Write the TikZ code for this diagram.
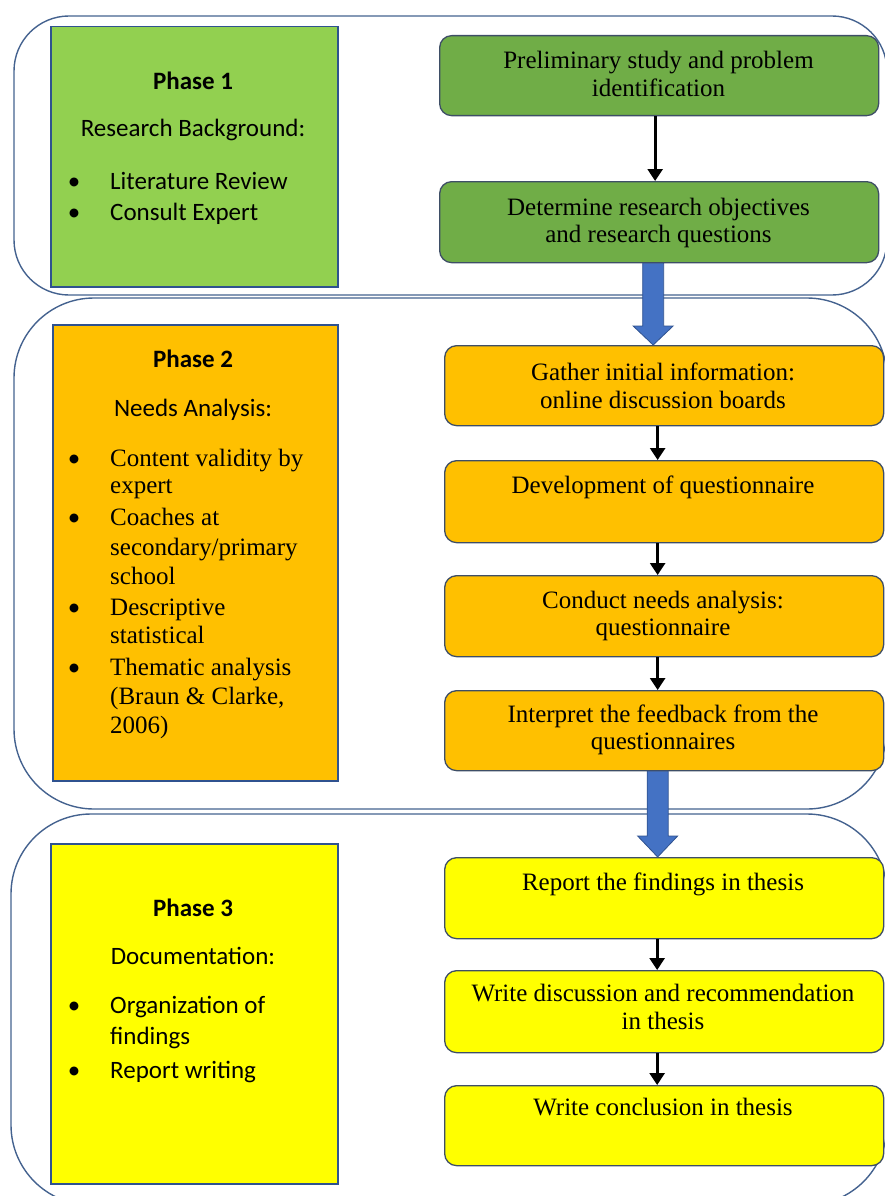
\documentclass[tikz,border=0pt]{standalone}
\usepackage{fontspec}
\setmainfont{Liberation Serif}
\newfontfamily\calib{Carlito}
\usetikzlibrary{arrows.meta,calc}
\definecolor{frameblue}{HTML}{44628F}
\definecolor{edgeblue}{HTML}{2F528F}
\definecolor{stepedge}{HTML}{3E4E66}
\definecolor{lgreen}{HTML}{92D050}
\definecolor{dgreen}{HTML}{70AD47}
\definecolor{orng}{HTML}{FFC000}
\definecolor{yell}{HTML}{FFFF00}
\definecolor{arrblue}{HTML}{4472C4}
\begin{document}
\begin{tikzpicture}[x=1pt,y=-1pt,
  outerbox/.style={draw=frameblue, line width=1.4pt},
  phasebox/.style={draw=edgeblue, line width=1.5pt, anchor=north west, inner sep=0pt},
  stepbox/.style={draw=stepedge, line width=1.3pt, rounded corners=12pt, anchor=north west,
                  minimum width=439pt, inner sep=0pt},
  ser/.style={font=\fontsize{25}{28}\selectfont, inner sep=0pt, anchor=base},
  serl/.style={font=\fontsize{25}{28}\selectfont, inner sep=0pt, anchor=base west},
  cal/.style={font=\calib\fontsize{25}{28}\selectfont, inner sep=0pt, anchor=base},
  calb/.style={font=\calib\bfseries\fontsize{25}{28}\selectfont, inner sep=0pt, anchor=base},
  call/.style={font=\calib\fontsize{25}{28}\selectfont, inner sep=0pt, anchor=base west},
  bul/.style={font=\calib\fontsize{25}{28}\selectfont, inner sep=0pt, anchor=base},
  blackarrow/.style={line width=2.8pt, -{Triangle[width=15pt,length=12pt]}},
  bluearr/.style={fill=arrblue, draw=edgeblue, line width=0.8pt, line join=miter}
]
\useasboundingbox (0,0) rectangle (885,1196);
\clip (0,0) rectangle (885,1196);

% outer frames
\draw[outerbox, rounded corners=55pt] (14,16) rectangle (887,295);
\draw[outerbox, rounded corners=80pt] (14,298) rectangle (887,809);
\draw[outerbox, rounded corners=80pt] (11,814) rectangle (887,1205);

% phase boxes
\node[phasebox, fill=lgreen, minimum width=287pt, minimum height=260pt] (p1) at (50,26) {};
\node[phasebox, fill=orng, minimum width=285pt, minimum height=456pt] (p2) at (52,324) {};
\node[phasebox, fill=yell, minimum width=287pt, minimum height=340pt] (p3) at (50,843) {};

% phase 1 text
\node[calb] (p1a) at (193,89.3) {Phase 1};
\node[cal] (p1b) at (193,136.7) {Research Background:};
\node[bul] (p1c) at (74,189) {•};
\node[call] (p1d) at (110,189) {Literature Review};
\node[bul] (p1e) at (74,220.7) {•};
\node[call] (p1f) at (110,220.7) {Consult Expert};

% phase 2 text
\node[calb] (p2a) at (193,367.6) {Phase 2};
\node[cal] (p2b) at (193,416) {Needs Analysis:};
\node[bul] (p2c) at (74,466) {•};
\node[serl] (p2d) at (110,466) {Content validity by};
\node[serl] (p2e) at (110,493) {expert};
\node[bul] (p2f) at (74,525.5) {•};
\node[serl] (p2g) at (110,525.5) {Coaches at};
\node[serl] (p2h) at (110,555) {secondary/primary};
\node[serl] (p2i) at (110,584) {school};
\node[bul] (p2j) at (74,615) {•};
\node[serl] (p2k) at (110,615) {Descriptive};
\node[serl] (p2l) at (110,643) {statistical};
\node[bul] (p2m) at (74,675.5) {•};
\node[serl] (p2n) at (110,675.5) {Thematic analysis};
\node[serl] (p2o) at (110,704) {(Braun \& Clarke,};
\node[serl] (p2p) at (110,733) {2006)};

% phase 3 text
\node[calb] (p3a) at (193,916) {Phase 3};
\node[cal] (p3b) at (193,964) {Documentation:};
\node[bul] (p3c) at (74,1013) {•};
\node[call] (p3d) at (110,1013) {Organization of};
\node[call] (p3e) at (110,1044) {findings};
\node[bul] (p3f) at (74,1078) {•};
\node[call] (p3g) at (110,1078) {Report writing};

% step boxes
\node[stepbox, fill=dgreen, minimum height=80pt] (b1) at (439,35) {};
\node[stepbox, fill=dgreen, minimum height=81pt] (b2) at (439,181) {};
\node[stepbox, fill=orng, minimum height=80pt] (b3) at (444,345) {};
\node[stepbox, fill=orng, minimum height=82pt] (b4) at (444,460) {};
\node[stepbox, fill=orng, minimum height=81pt] (b5) at (444,575) {};
\node[stepbox, fill=orng, minimum height=80pt] (b6) at (444,690) {};
\node[stepbox, fill=yell, minimum height=81pt] (b7) at (444,857) {};
\node[stepbox, fill=yell, minimum height=82pt] (b8) at (444,970) {};
\node[stepbox, fill=yell, minimum height=80pt] (b9) at (444,1085) {};

% step texts
\node[ser] (t1a) at (658.5,69) {Preliminary study and problem};
\node[ser] (t1b) at (658.5,96.7) {identification};
\node[ser] (t2a) at (658.5,215) {Determine research objectives};
\node[ser] (t2b) at (658.5,242.7) {and research questions};
\node[ser] (t3a) at (663,380) {Gather initial information:};
\node[ser] (t3b) at (663,408) {online discussion boards};
\node[ser] (t4a) at (663,493.4) {Development of questionnaire};
\node[ser] (t5a) at (663,608) {Conduct needs analysis:};
\node[ser] (t5b) at (663,635.5) {questionnaire};
\node[ser] (t6a) at (663,722) {Interpret the feedback from the};
\node[ser] (t6b) at (663,749.7) {questionnaires};
\node[ser] (t7a) at (663,890) {Report the findings in thesis};
\node[ser] (t8a) at (663,1001.7) {Write discussion and recommendation};
\node[ser] (t8b) at (663,1029) {in thesis};
\node[ser] (t9a) at (663,1115) {Write conclusion in thesis};

% black arrows
\draw[blackarrow] ([xshift=-4pt]b1.south) -- ([xshift=-4pt]b2.north);
\draw[blackarrow] ([xshift=-6.5pt]b3.south) -- ([xshift=-6.5pt]b4.north);
\draw[blackarrow] ([xshift=-6.5pt]b4.south) -- ([xshift=-6.5pt]b5.north);
\draw[blackarrow] ([xshift=-6.5pt]b5.south) -- ([xshift=-6.5pt]b6.north);
\draw[blackarrow] ([xshift=-7pt]b7.south) -- ([xshift=-7pt]b8.north);
\draw[blackarrow] ([xshift=-7pt]b8.south) -- ([xshift=-7pt]b9.north);

% blue block arrows
\coordinate (a1s) at ($(b2.south)+(-6,0)$);
\coordinate (a1e) at (a1s |- b3.north);
\draw[bluearr] ($(a1s)+(-10.5,0)$) -- ($(a1s)+(10.5,0)$) -- ($(a1e)+(10.5,-19)$)
  -- ($(a1e)+(20,-19)$) -- (a1e) -- ($(a1e)+(-20,-19)$) -- ($(a1e)+(-10.5,-19)$) -- cycle;
\coordinate (a2s) at ($(b6.south)+(-6.5,0)$);
\coordinate (a2e) at (a2s |- b7.north);
\draw[bluearr] ($(a2s)+(-10.5,0)$) -- ($(a2s)+(10.5,0)$) -- ($(a2e)+(10.5,-21)$)
  -- ($(a2e)+(20,-21)$) -- (a2e) -- ($(a2e)+(-20,-21)$) -- ($(a2e)+(-10.5,-21)$) -- cycle;
\end{tikzpicture}
\end{document}
